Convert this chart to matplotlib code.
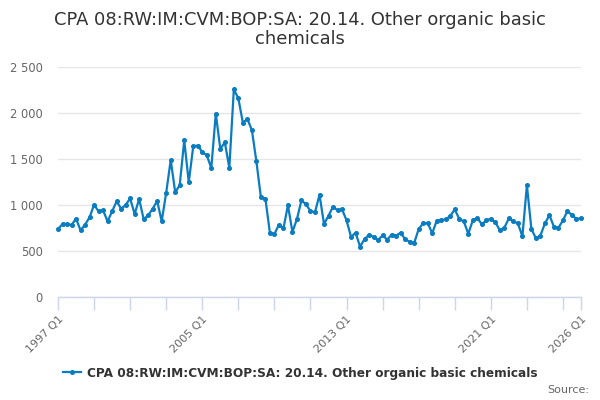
import matplotlib
matplotlib.use('Agg')

import numpy as np
from matplotlib import pyplot as plt
from matplotlib.ticker import FuncFormatter, FixedLocator

SERIES_NAME = 'CPA 08:RW:IM:CVM:BOP:SA: 20.14. Other organic basic chemicals'

# quarterly values, 1997 Q1 .. 2026 Q1
values = [
	740, 793, 793, 783, 851, 725, 786, 866, 1003, 931,
	942, 822, 931, 1040, 960, 1000, 1072, 902, 1065, 845,
	888, 960, 1043, 822, 1134, 1489, 1138, 1217, 1703, 1247,
	1638, 1645, 1576, 1540, 1402, 1993, 1609, 1681, 1406, 2257,
	2160, 1895, 1935, 1815, 1475, 1083, 1069, 696, 685, 786,
	746, 996, 707, 848, 1051, 1007, 935, 920, 1112, 793,
	884, 982, 942, 953, 833, 652, 699, 547, 630, 677,
	652, 620, 670, 623, 678, 667, 699, 627, 601, 587,
	739, 801, 804, 692, 830, 837, 844, 880, 953, 848,
	822, 688, 833, 859, 790, 833, 851, 812, 725, 753,
	855, 822, 801, 659, 1214, 739, 638, 667, 801, 888,
	764, 753, 833, 935, 888, 848, 855,
]

start_year = 1997
quarters = ['%d Q%d' % (start_year + i // 4, i % 4 + 1) for i in range(len(values))]
label_quarters = ['1997 Q1', '2005 Q1', '2013 Q1', '2021 Q1', '2026 Q1']
y_ticks = [0, 500, 1000, 1500, 2000, 2500]

LINE_COL = '#0a7cc1'
GRID_COL = '#e6e6e6'
AXIS_COL = '#ccd6eb'
TEXT_COL = '#666666'
TITLE_COL = '#333333'

fig = plt.figure(figsize=(6, 4), dpi=100)
ax = fig.add_axes([58/600., 1 - 297/400., (581 - 58)/600., (297 - 67)/400.])

x = np.arange(len(values))
ax.plot(x, values, color=LINE_COL, linewidth=1.6, marker='o', markersize=2.6,
		label=SERIES_NAME, clip_on=False, zorder=3)

ax.set_xlim(0, len(values) - 1)
ax.set_ylim(0, 2500)

ax.set_yticks(y_ticks)
ax.yaxis.set_major_formatter(FuncFormatter(lambda v, p: '{:,}'.format(int(v)).replace(',', ' ')))
ax.grid(axis='y', color=GRID_COL, linewidth=1)
ax.set_axisbelow(True)

major_pos = [quarters.index(q) for q in label_quarters]
ax.xaxis.set_major_locator(FixedLocator(major_pos))
ax.set_xticklabels(label_quarters, rotation=45, ha='right', rotation_mode='anchor')
minor_pos = [i for i in range(0, len(values), 8) if i not in major_pos]
ax.xaxis.set_minor_locator(FixedLocator(minor_pos))

for s in ['top', 'right', 'left']:
	ax.spines[s].set_visible(False)
ax.spines['bottom'].set_color(AXIS_COL)
ax.spines['bottom'].set_linewidth(1)

ax.tick_params(axis='x', which='both', direction='out', length=9, width=1,
			   color=AXIS_COL, labelcolor=TEXT_COL, labelsize=8, pad=3)
ax.tick_params(axis='y', length=0, labelcolor=TEXT_COL, labelsize=8.3, pad=11)

fig.text(0.5, 1 - 20/400., 'CPA 08:RW:IM:CVM:BOP:SA: 20.14. Other organic basic',
		 ha='center', va='center', fontsize=12.9, color=TITLE_COL)
fig.text(0.5, 1 - 39/400., 'chemicals',
		 ha='center', va='center', fontsize=12.9, color=TITLE_COL)

leg = fig.legend(loc='center', bbox_to_anchor=(0.5, 1 - 373/400.), frameon=False,
				 handlelength=1.5, handletextpad=0.5,
				 prop={'weight': 'bold', 'size': 8.7})
for t in leg.get_texts():
	t.set_color(TITLE_COL)

fig.text(589/600., 1 - 390/400., 'Source:', ha='right', va='center',
		 fontsize=8, color=TEXT_COL)

plt.savefig('out.png', dpi=100)
